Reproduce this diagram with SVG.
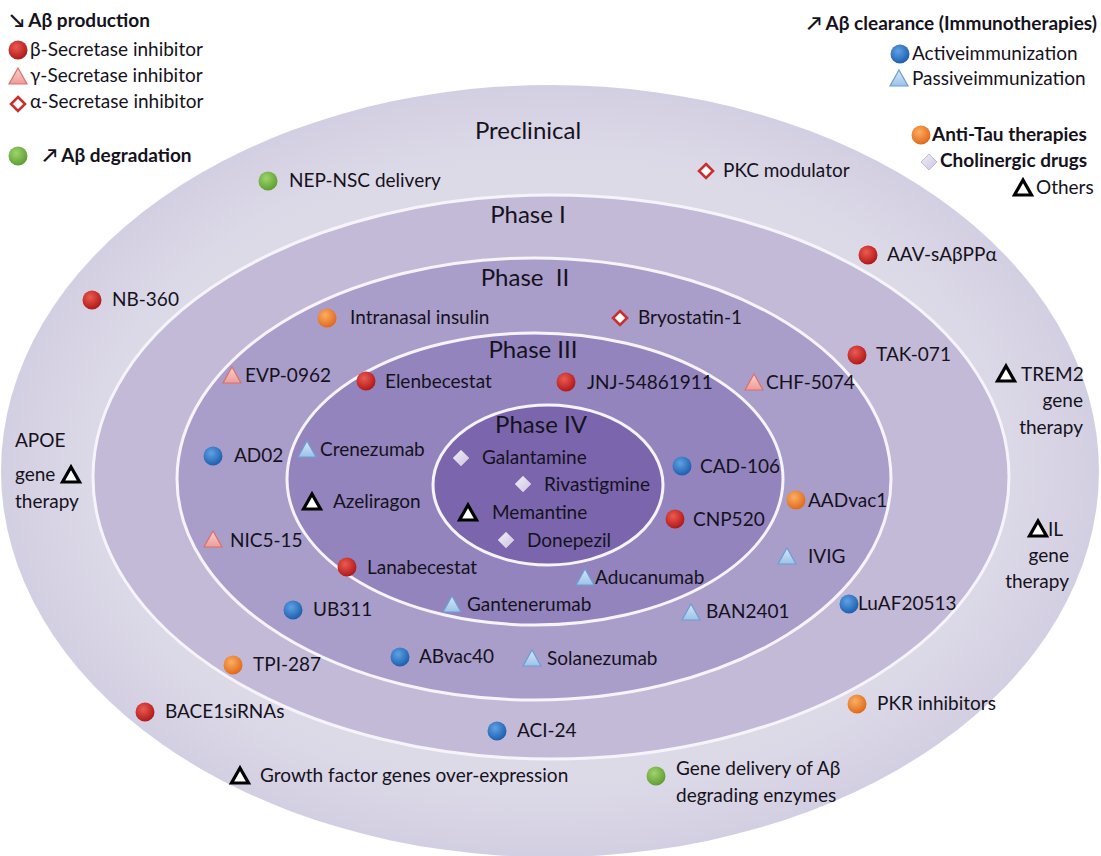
<svg xmlns="http://www.w3.org/2000/svg" xmlns:xlink="http://www.w3.org/1999/xlink" width="1101" height="856" viewBox="0 0 1101 856">
<style>
text{font-family:Lato,"Liberation Sans","DejaVu Sans",sans-serif;font-size:19px;fill:#15121c}
.b{font-weight:bold}
.ph{font-size:24px;text-anchor:middle}
.e{text-anchor:end}
.ring{stroke:#f6f4fa;stroke-width:3}
</style>
<defs>
<radialGradient id="gR" cx="40%" cy="35%" r="65%"><stop offset="0" stop-color="#ec5a50"/><stop offset="1" stop-color="#b0191a"/></radialGradient>
<radialGradient id="gB" cx="40%" cy="35%" r="65%"><stop offset="0" stop-color="#5ea2e4"/><stop offset="1" stop-color="#1f5fae"/></radialGradient>
<radialGradient id="gG" cx="40%" cy="35%" r="65%"><stop offset="0" stop-color="#9fd46c"/><stop offset="1" stop-color="#5f9e34"/></radialGradient>
<radialGradient id="gO" cx="40%" cy="35%" r="65%"><stop offset="0" stop-color="#fbae62"/><stop offset="1" stop-color="#e06a1c"/></radialGradient>
<linearGradient id="gPk" x1="0" y1="0" x2="0" y2="1"><stop offset="0" stop-color="#fbd0cc"/><stop offset="1" stop-color="#ee9c98"/></linearGradient>
<linearGradient id="gLb" x1="0" y1="0" x2="0" y2="1"><stop offset="0" stop-color="#d6e8f8"/><stop offset="1" stop-color="#9cc2e8"/></linearGradient>
<linearGradient id="gLv" x1="0" y1="0" x2="1" y2="1"><stop offset="0" stop-color="#f2eef8"/><stop offset="1" stop-color="#cdc4e0"/></linearGradient>
<radialGradient id="gOut" cx="50%" cy="50%" r="50%"><stop offset="0.8" stop-color="#dddae8"/><stop offset="1" stop-color="#d3cfe2"/></radialGradient>
<circle id="dR" r="9.5" fill="url(#gR)"/>
<circle id="dB" r="9.5" fill="url(#gB)"/>
<circle id="dG" r="9.5" fill="url(#gG)"/>
<circle id="dO" r="9.5" fill="url(#gO)"/>
<path id="tPk" d="M0,-9 L9,7 L-9,7 Z" fill="url(#gPk)" stroke="#d9706c" stroke-width="1.2"/>
<path id="tLb" d="M0,-9 L9,7 L-9,7 Z" fill="url(#gLb)" stroke="#6d9dd2" stroke-width="1.2"/>
<path id="tK" d="M0,-8 L8.5,7 L-8.5,7 Z" fill="#fff" stroke="#000" stroke-width="3.2" stroke-linejoin="miter"/>
<path id="mR" d="M0,-7 L7,0 L0,7 L-7,0 Z" fill="#fff" stroke="#c8302e" stroke-width="2.6"/>
<path id="mL" d="M0,-8 L8,0 L0,8 L-8,0 Z" fill="url(#gLv)" stroke="#c2b8d8" stroke-width="1"/>
</defs>
<rect width="1101" height="856" fill="#ffffff"/>

<g id="rings">
<ellipse id="preclinical-ring" cx="550" cy="471" rx="549" ry="386" fill="url(#gOut)"/>
<ellipse id="phase1-ring" class="ring" cx="551" cy="477" rx="458" ry="282" fill="#c3bad7"/>
<ellipse id="phase2-ring" class="ring" cx="534" cy="479" rx="357" ry="221" fill="#a99dca"/>
<ellipse id="phase3-ring" class="ring" cx="535" cy="479" rx="248" ry="146" fill="#9384be"/>
<ellipse id="phase4-ring" class="ring" cx="548" cy="485" rx="115" ry="80" fill="#7b66ae"/>
</g>

<g id="phase-labels">
<text class="ph" x="528" y="139">Preclinical</text>
<text class="ph" x="528" y="223">Phase I</text>
<text class="ph" x="525" y="286" xml:space="preserve">Phase  II</text>
<text class="ph" x="533" y="358">Phase III</text>
<text class="ph" x="541" y="433">Phase IV</text>
</g>

<g id="legend-production">
<text class="b" x="10" y="27">↘ Aβ production</text>
<use href="#dR" x="18" y="50"/><text x="30" y="56">β-Secretase inhibitor</text>
<use href="#tPk" x="18" y="77"/><text x="30" y="82">γ-Secretase inhibitor</text>
<use href="#mR" x="18" y="104"/><text x="30" y="108">α-Secretase inhibitor</text>
<use href="#dG" x="18" y="156"/><text class="b" x="43" y="162">↗ Aβ degradation</text>
</g>

<g id="legend-clearance">
<text class="b e" x="1097" y="30">↗ Aβ clearance (Immunotherapies)</text>
<use href="#dB" x="900" y="54"/><text x="912" y="60">Activeimmunization</text>
<use href="#tLb" x="899" y="79"/><text x="912" y="85">Passiveimmunization</text>
<use href="#dO" x="921" y="135"/><text class="b" x="932" y="141">Anti-Tau therapies</text>
<use href="#mL" x="929" y="162"/><text class="b" x="940" y="167">Cholinergic drugs</text>
<use href="#tK" x="1023" y="188"/><text x="1036" y="194">Others</text>
</g>

<g id="preclinical-items">
<g id="nep-nsc"><use href="#dG" x="268" y="181"/><text x="289" y="187">NEP-NSC delivery</text></g>
<g id="pkc"><use href="#mR" x="706" y="171"/><text x="723" y="177">PKC modulator</text></g>
<g id="aav"><use href="#dR" x="868" y="255"/><text x="887" y="261">AAV-sAβPPα</text></g>
<g id="nb360"><use href="#dR" x="92" y="300"/><text x="112" y="306">NB-360</text></g>
<g id="apoe"><text x="15" y="447">APOE</text><text x="15" y="481">gene</text><use href="#tK" x="71" y="475"/><text x="15" y="508">therapy</text></g>
<g id="trem2"><use href="#tK" x="1006" y="374"/><text x="1021" y="381">TREM2</text><text class="e" x="1083" y="407">gene</text><text class="e" x="1083" y="434">therapy</text></g>
<g id="il"><use href="#tK" x="1038" y="529"/><text x="1048" y="536">IL</text><text class="e" x="1069" y="562">gene</text><text class="e" x="1069" y="588">therapy</text></g>
<g id="bace1"><use href="#dR" x="145" y="712"/><text x="165" y="718">BACE1siRNAs</text></g>
<g id="pkr"><use href="#dO" x="857" y="704"/><text x="877" y="710">PKR inhibitors</text></g>
<g id="growth"><use href="#tK" x="240" y="776"/><text x="260" y="782">Growth factor genes over-expression</text></g>
<g id="gene-delivery"><use href="#dG" x="656" y="776"/><text x="676" y="775">Gene delivery of Aβ</text><text x="676" y="802">degrading enzymes</text></g>
</g>

<g id="phase1-items">
<g id="tak071"><use href="#dR" x="857" y="355"/><text x="876" y="361">TAK-071</text></g>
<g id="tpi287"><use href="#dO" x="233" y="665"/><text x="253" y="671">TPI-287</text></g>
<g id="luaf"><use href="#dB" x="849" y="604"/><text x="858" y="610">LuAF20513</text></g>
<g id="aci24"><use href="#dB" x="497" y="731"/><text x="517" y="737">ACI-24</text></g>
</g>

<g id="phase2-items">
<g id="insulin"><use href="#dO" x="327" y="318"/><text x="350" y="324">Intranasal insulin</text></g>
<g id="bryostatin"><use href="#mR" x="620" y="318"/><text x="638" y="324">Bryostatin-1</text></g>
<g id="evp"><use href="#tPk" x="232" y="376"/><text x="245" y="382">EVP-0962</text></g>
<g id="chf"><use href="#tPk" x="754" y="383"/><text x="766" y="389">CHF-5074</text></g>
<g id="ad02"><use href="#dB" x="213" y="456"/><text x="234" y="462">AD02</text></g>
<g id="nic"><use href="#tPk" x="213" y="540"/><text x="230" y="547">NIC5-15</text></g>
<g id="ub311"><use href="#dB" x="293" y="610"/><text x="313" y="616">UB311</text></g>
<g id="abvac"><use href="#dB" x="400" y="657"/><text x="419" y="663">ABvac40</text></g>
<g id="solanezumab"><use href="#tLb" x="532" y="659"/><text x="547" y="665">Solanezumab</text></g>
<g id="ban2401"><use href="#tLb" x="691" y="613"/><text x="706" y="618">BAN2401</text></g>
<g id="ivig"><use href="#tLb" x="787" y="557"/><text x="808" y="563">IVIG</text></g>
<g id="aadvac"><use href="#dO" x="796" y="500"/><text x="808" y="507">AADvac1</text></g>
</g>

<g id="phase3-items">
<g id="elenbecestat"><use href="#dR" x="366" y="381"/><text x="385" y="388">Elenbecestat</text></g>
<g id="jnj"><use href="#dR" x="566" y="382"/><text x="587" y="389">JNJ-54861911</text></g>
<g id="crenezumab"><use href="#tLb" x="307" y="450"/><text x="320" y="456">Crenezumab</text></g>
<g id="azeliragon"><use href="#tK" x="312" y="502"/><text x="333" y="508">Azeliragon</text></g>
<g id="lanabecestat"><use href="#dR" x="347" y="567"/><text x="367" y="574">Lanabecestat</text></g>
<g id="gantenerumab"><use href="#tLb" x="452" y="605"/><text x="467" y="611">Gantenerumab</text></g>
<g id="aducanumab"><use href="#tLb" x="585" y="578"/><text x="595" y="584">Aducanumab</text></g>
<g id="cad106"><use href="#dB" x="682" y="466"/><text x="700" y="473">CAD-106</text></g>
<g id="cnp520"><use href="#dR" x="675" y="519"/><text x="693" y="526">CNP520</text></g>
</g>

<g id="phase4-items">
<g id="galantamine"><use href="#mL" x="461" y="458"/><text x="482" y="464">Galantamine</text></g>
<g id="rivastigmine"><use href="#mL" x="523" y="484"/><text x="544" y="491">Rivastigmine</text></g>
<g id="memantine"><use href="#tK" x="468" y="513"/><text x="492" y="519">Memantine</text></g>
<g id="donepezil"><use href="#mL" x="506" y="540"/><text x="527" y="547">Donepezil</text></g>
</g>
</svg>
